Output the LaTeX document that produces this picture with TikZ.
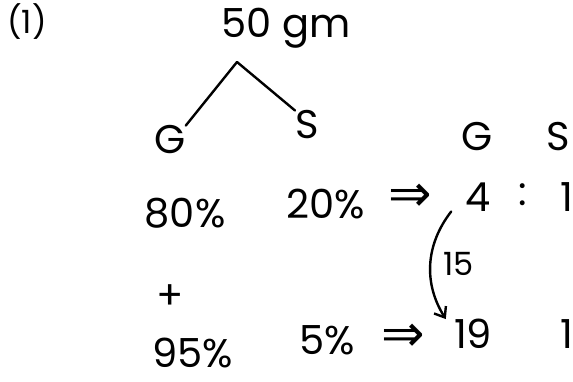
\documentclass[tikz,border=0pt]{standalone}
\usepackage{fontspec}
\setmainfont{Poppins}
\newfontfamily\arrowfont{DejaVu Sans}
\usetikzlibrary{arrows.meta}

\tikzset{
  hand/.style={inner sep=0pt, font=\fontsize{40}{46}\selectfont},
  small/.style={inner sep=0pt, font=\fontsize{32}{38}\selectfont},
  imply/.style={inner sep=0pt, font=\arrowfont\fontsize{52}{60}\selectfont},
  stroke/.style={line width=2.4pt, line cap=round},
}

\begin{document}
\begin{tikzpicture}[x=1pt, y=-1pt]
        \useasboundingbox (0,0) rectangle (573,381);
        % tree
        \node[small] (num) at (27,22) {(1)};
        \node[hand] (total) at (286,28) {50 gm};
        \coordinate (apex) at (237,62);
        \node[hand] (g) at (170,140) {G};
        \node[hand] (s) at (307,125) {S};
        \draw[stroke] (apex) -- (g.north east);
        \draw[stroke] (apex) -- (s.north west);

        % ratio header
        \node[hand] (hg) at (477,137) {G};
        \node[hand] (hs) at (558,137) {S};

        % first alloy
        \node[hand] (ga) at (185,213) {80\%};
        \node[hand] (sa) at (326,204) {20\%};
        \node[imply] (ia) at (410,198) {⇒};
        \node[hand] (four) at (478,197) {4};
        \node[hand] (colon) at (523,195) {:};
        \node[hand] (onea) at (567,197) {1};

        \node[hand] (plus) at (170,297) {+};

        % second alloy
        \node[hand] (gb) at (193,353) {95\%};
        \node[hand] (sb) at (327,340) {5\%};
        \node[imply] (ib) at (403,338) {⇒};
        \node[hand] (nineteen) at (473,334) {19};
        \node[hand] (oneb) at (567,334) {1};

        \draw[stroke, -{Straight Barb[length=9pt,width=14pt]}] ([xshift=-14pt]four.south west) to[bend right=35]
            node[small, pos=0.5, right=12pt] (diff) {15} ([xshift=-8pt]nineteen.north west);
    \end{tikzpicture}
\end{document}
